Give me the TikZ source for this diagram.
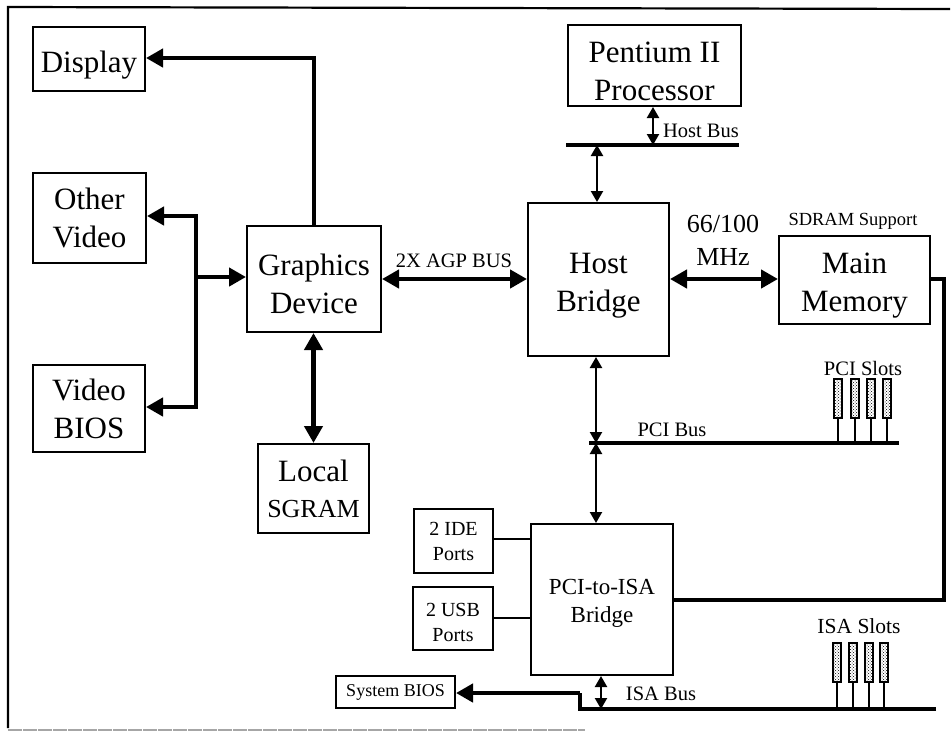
\documentclass[tikz,border=0pt]{standalone}
\usepackage{fontspec}
\setmainfont{Liberation Serif}
\usetikzlibrary{arrows.meta,patterns}
\tikzset{
  blockbox/.style={draw,line width=2pt,inner sep=0pt,align=center,anchor=north west,font=\fontsize{31}{38}\selectfont},
  smallbox/.style={blockbox,font=\fontsize{20}{25}\selectfont},
  slotbox/.style={draw,line width=2.5pt,pattern=crosshatch dots,inner sep=0pt,minimum width=8pt,minimum height=39pt,anchor=south},
  thinlink/.style={line width=2.2pt,>={Triangle[length=11pt,width=12pt]}},
  thicklink/.style={line width=4.6pt,>={Triangle[length=17pt,width=18pt]}},
  buslink/.style={line width=4.6pt},
  note/.style={inner sep=0pt,font=\fontsize{20.5}{25}\selectfont}
}
\begin{document}
\begin{tikzpicture}[x=1pt,y=-1pt,line join=miter]
\useasboundingbox (0,0) rectangle (951,732);
\node[blockbox,minimum width=112pt,minimum height=64pt] (display) at (32,26) {\rule{0pt}{33pt}Display};
\node[blockbox,minimum width=113pt,minimum height=90pt] (othervideo) at (32,172) {Other\\Video};
\node[blockbox,minimum width=112pt,minimum height=87pt] (videobios) at (32,364) {Video\\BIOS};
\node[blockbox,minimum width=134pt,minimum height=106pt] (graphics) at (246,225) {\rule{0pt}{31pt}Graphics\\Device};
\node[blockbox,minimum width=111pt,minimum height=89pt] (sgram) at (257,443) {Local\\[-2pt]\fontsize{26}{30}\selectfont SGRAM};
\node[blockbox,minimum width=141pt,minimum height=153pt] (hostbridge) at (527,202) {\rule{0pt}{33pt}Host\\Bridge};
\node[blockbox,minimum width=173pt,minimum height=81pt] (pentium) at (567,24) {\rule{0pt}{33pt}Pentium II\\Processor};
\node[blockbox,minimum width=151pt,minimum height=88pt] (memory) at (778,235) {\rule{0pt}{31pt}Main\\Memory};
\node[smallbox,minimum width=79pt,minimum height=64pt] (ide) at (413,508) {2 IDE\\Ports};
\node[smallbox,minimum width=80pt,minimum height=63pt] (usb) at (412,586) {\rule{0pt}{21pt}2 USB\\Ports};
\node[blockbox,font=\fontsize{23}{28}\selectfont,minimum width=142pt,minimum height=151pt] (isabridge) at (530,523) {\rule{0pt}{23pt}PCI-to-ISA\\Bridge};
\node[smallbox,font=\fontsize{18}{20}\selectfont,minimum width=119pt,minimum height=32pt] (sysbios) at (335,675) {System BIOS};
\coordinate (hostbusl) at (566,145);
\coordinate (hostbusr) at (739,145);
\coordinate (pcibusl) at (589,443);
\coordinate (pcibusr) at (899,443);
\coordinate (isabusl) at (580,709);
\coordinate (isabusr) at (936,709);
\coordinate (split) at (196,277);
% buses
\draw[buslink] (hostbusl) -- (hostbusr);
\draw[buslink] (pcibusl) -- (pcibusr);
\draw[buslink] (isabusr) -- (isabusl) -- (580,693);
\draw[thicklink,->] (580,693) -- (sysbios.east |- 0,693);
% left side
\draw[thicklink,->] (graphics.north -| 314,0) -- (314,58) -- (display.east |- 0,58);
\draw[thicklink,->] (split) -- (graphics.west |- split);
\draw[thicklink,->] (196,407) -- (196,216) -- (othervideo.east |- 0,216);
\draw[thicklink,->] (196,216) -- (196,407) -- (videobios.east |- 0,407);
\draw[thicklink,<->] (graphics.south -| sgram.north) -- (sgram.north);
\draw[thicklink,<->] (graphics.east |- 0,279) -- (hostbridge.west |- 0,279);
\draw[thicklink,<->] (hostbridge.east |- 0,279) -- (memory.west |- 0,279);
% thin arrows
\draw[thinlink,<->] (pentium.south -| 653,0) -- (653,145);
\draw[thinlink,<->] (597,145) -- (hostbridge.north -| 597,0);
\draw[thinlink,<->] (hostbridge.south -| 596,0) -- (596,443);
\draw[thinlink,<->] (596,443) -- (isabridge.north -| 596,0);
\draw[thinlink,<->] (isabridge.south -| 601,0) -- (601,709);
\draw[thinlink] (ide.east |- 0,539) -- (isabridge.west |- 0,539);
\draw[thinlink] (usb.east |- 0,618) -- (isabridge.west |- 0,618);
% memory to isa bridge
\draw[buslink] (memory.east |- 0,279) -- (944,279) -- (944,600) -- (isabridge.east |- 0,600);
% slots
\foreach \px/\nm in {838/a,855/b,871/c,887/d} {
  \node[slotbox] (pci\nm) at (\px,419) {};
  \draw[thinlink] (pci\nm.south) -- (\px,443);
}
\foreach \px/\nm in {837/a,853/b,869/c,884/d} {
  \node[slotbox] (isa\nm) at (\px,683) {};
  \draw[thinlink] (isa\nm.south) -- (\px,709);
}
% labels
\node[note] (hostbuslbl) at (701,131) {Host Bus};
\node[note,font=\fontsize{26}{33}\selectfont,align=center] (speed) at (723,240) {66/100\\MHz};
\node[note] (agplbl) at (454,261) {2X AGP BUS};
\node[note,font=\fontsize{18.5}{22}\selectfont] (sdramlbl) at (853,221) {SDRAM Support};
\node[note] (pcislots) at (863,368) {PCI Slots};
\node[note] (pcibuslbl) at (672,430) {PCI Bus};
\node[note,font=\fontsize{21.5}{25}\selectfont] (isaslots) at (859,626) {ISA Slots};
\node[note] (isabuslbl) at (661,694) {ISA Bus};
% page frame
\draw[line width=2.2pt] (8,728) -- (8,7) -- (950,9);
\draw[line width=1.2pt,gray!70,dash pattern=on 14pt off 1pt] (8,730) -- (585,730);
\end{tikzpicture}
\end{document}
